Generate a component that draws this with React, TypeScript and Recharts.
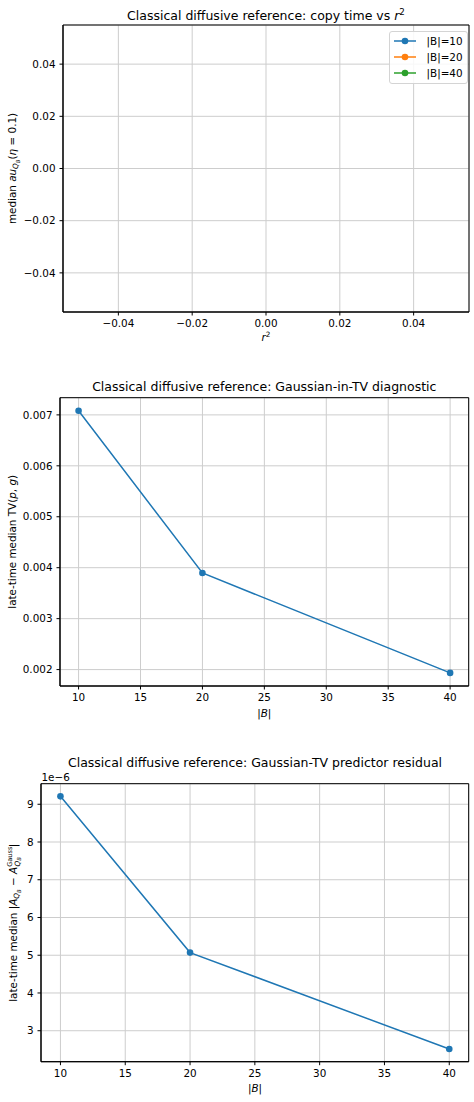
import React from 'react';
import { LineChart, Line, XAxis, YAxis, CartesianGrid, Legend, ReferenceArea } from 'recharts';

const FONT = '"DejaVu Sans", "Liberation Sans", sans-serif';
const TICK_FS = 10.4;
const TITLE_FS = 12.5;

// Panel 1: copy time vs r^2 — no samples were recorded for any block size
const copyR2: number[] = [];
const copyTauB10: number[] = [];
const copyTauB20: number[] = [];
const copyTauB40: number[] = [];
const copySeriesLabels = ['|B|=10', '|B|=20', '|B|=40'];
const copySeriesColors = ['#1f77b4', '#ff7f0e', '#2ca02c'];
const copyTicks = [-0.04, -0.02, 0, 0.02, 0.04];
const copyDomain: [number, number] = [-0.055, 0.055];

// Panels 2 and 3: late-time diagnostics per block size
const blockSizes = [10, 20, 40];
const tvMedian = [0.00708, 0.003896, 0.001935];
const residualMedian = [9.21e-6, 5.07e-6, 2.514e-6];
const blockTicks = [10, 15, 20, 25, 30, 35, 40];
const tvTicks = [0.002, 0.003, 0.004, 0.005, 0.006, 0.007];
const residualTicks = [3e-6, 4e-6, 5e-6, 6e-6, 7e-6, 8e-6, 9e-6];

const BLUE = '#1f77b4';

// matplotlib-style 5% padding around the data range
const padded = (vals: number[]): [number, number] => {
  const lo = Math.min(...vals);
  const hi = Math.max(...vals);
  const m = (hi - lo) * 0.05;
  return [lo - m, hi + m];
};

const minus = (s: string) => s.replace('-', '\u2212');

const tickStyle = { fill: '#000', fontSize: TICK_FS, fontFamily: FONT };
const axisLineStyle = { stroke: '#000', strokeWidth: 1 };
const tickLineStyle = { stroke: '#000', strokeWidth: 1 };
const GRID = '#cdcdcd';

const copyData = copyR2.map((r, i) => ({
  r2: r,
  b10: copyTauB10[i],
  b20: copyTauB20[i],
  b40: copyTauB40[i],
}));
const copyKeys = ['b10', 'b20', 'b40'];

const tvData = blockSizes.map((b, i) => ({ B: b, tv: tvMedian[i] }));
const residualData = blockSizes.map((b, i) => ({ B: b, res: residualMedian[i] }));

const tvXDomain = padded(blockSizes);
const tvYDomain = padded(tvMedian);
const resYDomain = padded(residualMedian);

const CopyLegend = () => (
  <div
    style={{
      border: '1px solid #d4d4d4',
      borderRadius: 3,
      background: 'rgba(255,255,255,0.85)',
      padding: '1px 4px 2px 3px',
      fontFamily: FONT,
      fontSize: TICK_FS,
      color: '#000',
      lineHeight: '16px',
    }}
  >
    {copySeriesLabels.map((label, i) => (
      <div key={label} style={{ display: 'flex', alignItems: 'center', height: 16 }}>
        <svg width={30} height={16} style={{ display: 'block' }}>
          <line x1={1} x2={23} y1={8} y2={8} stroke={copySeriesColors[i]} strokeWidth={1.5} />
          <circle cx={12} cy={8} r={3.3} fill={copySeriesColors[i]} />
        </svg>
        <span style={{ marginLeft: 4, whiteSpace: 'nowrap' }}>{label}</span>
      </div>
    ))}
  </div>
);

// Axes frame drawn over the full plotting range
const frame = (dx: [number, number], dy: [number, number]) => (
  <ReferenceArea
    x1={dx[0]}
    x2={dx[1]}
    y1={dy[0]}
    y2={dy[1]}
    fill="none"
    fillOpacity={0}
    stroke="#000"
    strokeWidth={1}
    ifOverflow="visible"
  />
);

export default function App() {
  return (
    <div
      style={{
        position: 'absolute',
        left: 0,
        top: 0,
        width: 474,
        height: 1102,
        background: '#fff',
        overflow: 'hidden',
      }}
    >
      {/* Panel 1 */}
      <div style={{ position: 'absolute', left: 0, top: 0 }}>
        <LineChart
          width={474}
          height={340}
          data={copyData}
          margin={{ top: 25, right: 5, bottom: 0, left: 0 }}
        >
          <CartesianGrid stroke={GRID} strokeWidth={1} />
          <XAxis
            dataKey="r2"
            type="number"
            domain={copyDomain}
            ticks={copyTicks}
            allowDataOverflow
            height={28}
            tick={tickStyle}
            tickFormatter={(v: number) => minus(v.toFixed(2))}
            tickSize={3.5}
            tickMargin={4}
            axisLine={axisLineStyle}
            tickLine={tickLineStyle}
            interval={0}
          />
          <YAxis
            type="number"
            domain={copyDomain}
            ticks={copyTicks}
            allowDataOverflow
            width={63}
            tick={tickStyle}
            tickFormatter={(v: number) => minus(v.toFixed(2))}
            tickSize={3.5}
            tickMargin={4}
            axisLine={axisLineStyle}
            tickLine={tickLineStyle}
            interval={0}
          />
          {frame(copyDomain, copyDomain)}
          {copyKeys.map((k, i) => (
            <Line
              key={k}
              dataKey={k}
              name={copySeriesLabels[i]}
              stroke={copySeriesColors[i]}
              strokeWidth={1.5}
              dot={{ r: 3.3, fill: copySeriesColors[i], stroke: copySeriesColors[i], strokeWidth: 0 }}
              activeDot={false}
              isAnimationActive={false}
            />
          ))}
          <Legend
            layout="vertical"
            align="center"
            verticalAlign="middle"
            content={() => <CopyLegend />}
            wrapperStyle={{ left: 388.5, top: 30.5, width: 'auto', height: 'auto' }}
          />
        </LineChart>
      </div>

      {/* Panel 2 */}
      <div style={{ position: 'absolute', left: 0, top: 360 }}>
        <LineChart
          width={474}
          height={354}
          data={tvData}
          margin={{ top: 37.7, right: 5.3, bottom: 0, left: 0 }}
        >
          <CartesianGrid stroke={GRID} strokeWidth={1} />
          <XAxis
            dataKey="B"
            type="number"
            domain={tvXDomain}
            ticks={blockTicks}
            allowDataOverflow
            height={28}
            tick={tickStyle}
            tickSize={3.5}
            tickMargin={4}
            axisLine={axisLineStyle}
            tickLine={tickLineStyle}
            interval={0}
          />
          <YAxis
            type="number"
            domain={tvYDomain}
            ticks={tvTicks}
            allowDataOverflow
            width={60}
            tick={tickStyle}
            tickFormatter={(v: number) => v.toFixed(3)}
            tickSize={3.5}
            tickMargin={4}
            axisLine={axisLineStyle}
            tickLine={tickLineStyle}
            interval={0}
          />
          {frame(tvXDomain, tvYDomain)}
          <Line
            dataKey="tv"
            stroke={BLUE}
            strokeWidth={1.5}
            dot={{ r: 3.3, fill: BLUE, stroke: BLUE, strokeWidth: 0 }}
            activeDot={false}
            isAnimationActive={false}
          />
        </LineChart>
      </div>

      {/* Panel 3 */}
      <div style={{ position: 'absolute', left: 0, top: 740 }}>
        <LineChart
          width={474}
          height={350}
          data={residualData}
          margin={{ top: 43.7, right: 5.3, bottom: 0, left: 0 }}
        >
          <CartesianGrid stroke={GRID} strokeWidth={1} />
          <XAxis
            dataKey="B"
            type="number"
            domain={tvXDomain}
            ticks={blockTicks}
            allowDataOverflow
            height={28.3}
            tick={tickStyle}
            tickSize={3.5}
            tickMargin={4}
            axisLine={axisLineStyle}
            tickLine={tickLineStyle}
            interval={0}
          />
          <YAxis
            type="number"
            domain={resYDomain}
            ticks={residualTicks}
            allowDataOverflow
            width={41}
            tick={tickStyle}
            tickFormatter={(v: number) => (v * 1e6).toFixed(0)}
            tickSize={3.5}
            tickMargin={4}
            axisLine={axisLineStyle}
            tickLine={tickLineStyle}
            interval={0}
          />
          {frame(tvXDomain, resYDomain)}
          <Line
            dataKey="res"
            stroke={BLUE}
            strokeWidth={1.5}
            dot={{ r: 3.3, fill: BLUE, stroke: BLUE, strokeWidth: 0 }}
            activeDot={false}
            isAnimationActive={false}
          />
        </LineChart>
      </div>

      {/* Titles and axis labels */}
      <svg
        width={474}
        height={1102}
        style={{ position: 'absolute', left: 0, top: 0, pointerEvents: 'none' }}
        fontFamily={FONT}
        fill="#000"
      >
        <text x={266} y={19.5} textAnchor="middle" fontSize={TITLE_FS}>
          {'Classical diffusive reference: copy time vs '}
          <tspan fontStyle="italic">r</tspan>
          <tspan fontSize={8.7} dy={-5}>2</tspan>
        </text>
        <text x={266} y={341} textAnchor="middle" fontSize={TICK_FS}>
          <tspan fontStyle="italic">r</tspan>
          <tspan fontSize={7.3} dy={-4}>2</tspan>
        </text>
        <text transform="translate(16,168.5) rotate(-90)" textAnchor="middle" fontSize={TICK_FS}>
          {'median '}
          <tspan fontStyle="italic">au</tspan>
          <tspan fontStyle="italic" fontSize={7.3} dy={2}>Q</tspan>
          <tspan fontStyle="italic" fontSize={5.4} dy={1.5}>B</tspan>
          <tspan dy={-3.5}>(</tspan>
          <tspan fontStyle="italic">η</tspan>
          {' = 0.1)'}
        </text>

        <text x={264.3} y={391} textAnchor="middle" fontSize={TITLE_FS}>
          Classical diffusive reference: Gaussian-in-TV diagnostic
        </text>
        <text x={264.3} y={716.7} textAnchor="middle" fontSize={TICK_FS}>
          {'|'}
          <tspan fontStyle="italic">B</tspan>
          {'|'}
        </text>
        <text transform="translate(15.7,541.8) rotate(-90)" textAnchor="middle" fontSize={TICK_FS}>
          {'late-time median TV('}
          <tspan fontStyle="italic">p</tspan>
          {', '}
          <tspan fontStyle="italic">g</tspan>
          {')'}
        </text>

        <text x={255} y={767} textAnchor="middle" fontSize={TITLE_FS}>
          Classical diffusive reference: Gaussian-TV predictor residual
        </text>
        <text x={41.5} y={780.5} fontSize={TICK_FS}>
          1e−6
        </text>
        <text x={255} y={1092} textAnchor="middle" fontSize={TICK_FS}>
          {'|'}
          <tspan fontStyle="italic">B</tspan>
          {'|'}
        </text>
        <text transform="translate(17,922.7) rotate(-90)" textAnchor="middle" fontSize={TICK_FS}>
          {'late-time median |'}
          <tspan fontStyle="italic">A</tspan>
          <tspan fontStyle="italic" fontSize={7.3} dy={2}>Q</tspan>
          <tspan fontStyle="italic" fontSize={5.4} dy={1.5}>B</tspan>
          <tspan dy={-3.5}>{' − '}</tspan>
          <tspan fontStyle="italic">A</tspan>
          <tspan fontSize={6.6} dy={-5}>Gauss</tspan>
          <tspan fontStyle="italic" fontSize={7.3} dx={-20} dy={7.5}>Q</tspan>
          <tspan fontStyle="italic" fontSize={5.4} dy={1.5}>B</tspan>
          <tspan dx={10} dy={-4}>|</tspan>
        </text>
      </svg>
    </div>
  );
}
